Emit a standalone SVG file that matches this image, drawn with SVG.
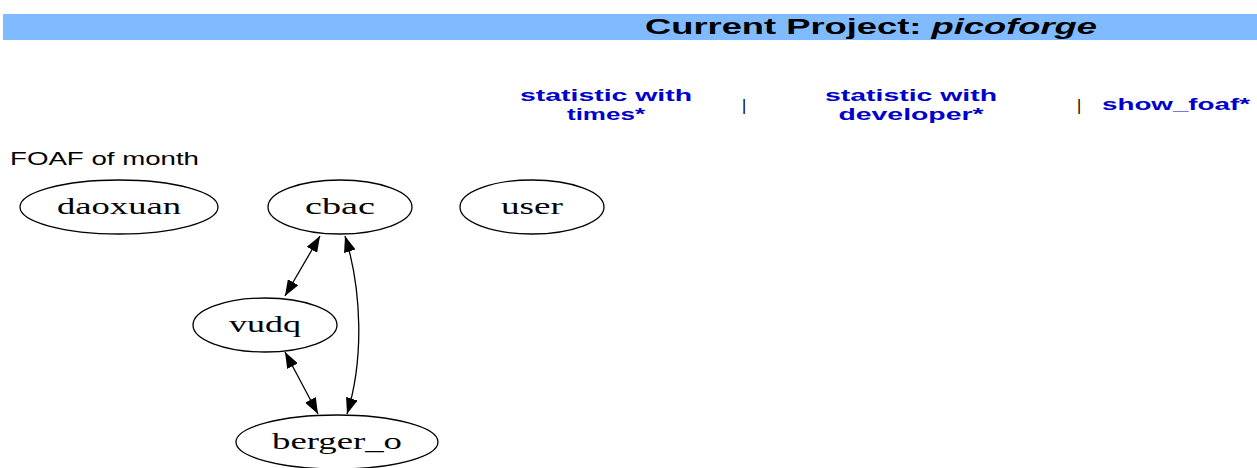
<svg xmlns="http://www.w3.org/2000/svg" width="1257" height="468" viewBox="0 0 1257 468">
<style>
.lnk{font-family:"Liberation Sans",Arial,sans-serif;font-weight:bold;font-size:16px;fill:#0000cc;text-anchor:middle}
.sep{font-family:"Liberation Sans",Arial,sans-serif;font-size:16px;fill:#000;text-anchor:middle}
.nd ellipse{fill:#fff;stroke:#000;stroke-width:1.3}
.nd text{font-family:"Liberation Serif","Times New Roman",serif;font-size:23px;fill:#000;text-anchor:middle}
.edge{fill:none;stroke:#000;stroke-width:1.3}
</style>
<defs>
<marker id="ah" viewBox="0 0 16 12" refX="16" refY="6" markerWidth="16" markerHeight="12" markerUnits="userSpaceOnUse" orient="auto-start-reverse">
<path d="M0,0 L16,6 L0,12 z" fill="#000"/>
</marker>
</defs>
<rect width="1257" height="468" fill="#fff"/>
<rect x="3" y="14" width="1254" height="26" fill="#80bbff"/>
<text x="645" y="34" font-family="Liberation Sans,Arial,sans-serif" font-weight="bold" font-size="22" fill="#000" textLength="452" lengthAdjust="spacingAndGlyphs">Current Project: <tspan font-style="italic">picoforge</tspan></text>
<text class="lnk" x="606" y="101" textLength="172" lengthAdjust="spacingAndGlyphs">statistic with</text>
<text class="lnk" x="606" y="120" textLength="78" lengthAdjust="spacingAndGlyphs">times*</text>
<text class="sep" x="744" y="111">|</text>
<text class="lnk" x="911" y="101" textLength="172" lengthAdjust="spacingAndGlyphs">statistic with</text>
<text class="lnk" x="911" y="120" textLength="145" lengthAdjust="spacingAndGlyphs">developer*</text>
<text class="sep" x="1079" y="111">|</text>
<text class="lnk" x="1176" y="110" textLength="148" lengthAdjust="spacingAndGlyphs">show_foaf*</text>
<text x="10" y="165" font-family="Liberation Sans,Arial,sans-serif" font-size="19" fill="#000" textLength="189" lengthAdjust="spacingAndGlyphs">FOAF of month</text>
<g id="connectors">
<path class="edge" d="M320,236 L285,296" marker-start="url(#ah)" marker-end="url(#ah)"/>
<path class="edge" d="M345,236 C362,290 364,360 347,414" marker-start="url(#ah)" marker-end="url(#ah)"/>
<path class="edge" d="M285,352 L318,414" marker-start="url(#ah)" marker-end="url(#ah)"/>
</g>
<g id="daoxuan" class="nd"><ellipse cx="119" cy="207" rx="99" ry="27"/><text x="119" y="214" textLength="124" lengthAdjust="spacingAndGlyphs">daoxuan</text></g>
<g id="cbac" class="nd"><ellipse cx="340" cy="207" rx="72" ry="27"/><text x="340" y="214" textLength="70" lengthAdjust="spacingAndGlyphs">cbac</text></g>
<g id="user" class="nd"><ellipse cx="532" cy="207" rx="72" ry="27"/><text x="532" y="214" textLength="62" lengthAdjust="spacingAndGlyphs">user</text></g>
<g id="vudq" class="nd"><ellipse cx="265" cy="325" rx="72" ry="27"/><text x="265" y="332" textLength="72" lengthAdjust="spacingAndGlyphs">vudq</text></g>
<g id="berger_o" class="nd"><ellipse cx="337" cy="442" rx="101" ry="27"/><text x="337" y="449" textLength="130" lengthAdjust="spacingAndGlyphs">berger_o</text></g>
</svg>
